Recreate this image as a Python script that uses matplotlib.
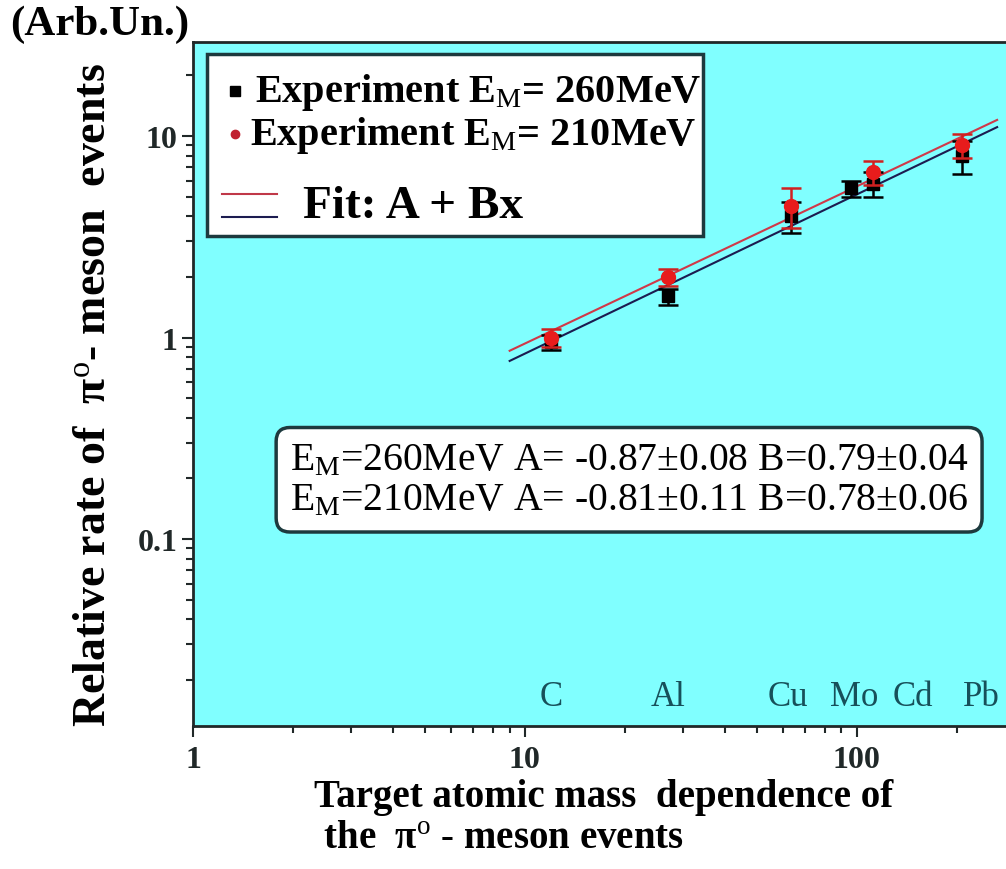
import numpy as np
import matplotlib
matplotlib.use("Agg")
import matplotlib.pyplot as plt
from matplotlib.patches import Rectangle

plt.rcParams['font.family'] = ['Liberation Serif', 'DejaVu Serif']
plt.rcParams['mathtext.fontset'] = 'custom'
plt.rcParams['mathtext.rm'] = 'Liberation Serif'
plt.rcParams['mathtext.it'] = 'Liberation Serif:italic'
plt.rcParams['mathtext.bf'] = 'Liberation Serif:bold'

# targets and their atomic masses
targets = ['C', 'Al', 'Cu', 'Mo', 'Cd', 'Pb']
mass = [12, 27, 63.5, 96, 112, 207]
# where the target names sit along the bottom
label_x = [12, 27, 62, 98, 148, 238]

# E_M = 260 MeV
rate_260 = [0.95, 1.6, 4.0, 5.5, 5.8, 8.0]
err_260 = [0.08, 0.15, 0.7, 0.5, 0.8, 1.5]
# E_M = 210 MeV
rate_210 = [1.0, 2.0, 4.5, None, 6.6, 9.0]
err_210 = [0.1, 0.2, 1.0, None, 0.9, 1.2]

# fits log10(y) = A + B*log10(x)
fit_260 = (-0.87, 0.08, 0.79, 0.04)
fit_210 = (-0.81, 0.11, 0.78, 0.06)
fit_range = (9, 265)

EDGE = '#1d3a3e'
BG = '#80ffff'

fig = plt.figure(figsize=(10.06, 8.70), dpi=100)
ax = fig.add_axes([193 / 1006, 143 / 870, 822 / 1006, 684 / 870])
ax.set_facecolor(BG)
ax.set_xscale('log')
ax.set_yscale('log')
ax.set_xlim(1, 300)
ax.set_ylim(0.0118, 29.3)

# fitted lines
xf = np.geomspace(*fit_range, 50)
for (a, _, b, _), col in [(fit_260, '#1c1c50'), (fit_210, '#d03848')]:
    ax.plot(xf, 10 ** (a + b * np.log10(xf)), color=col, lw=1.5, zorder=3)

# data points
ax.errorbar(mass, rate_260, yerr=err_260, fmt='s', color='black', ms=8.5,
            elinewidth=1.8, capsize=7, capthick=1.8, zorder=4)
m210 = [m for m, r in zip(mass, rate_210) if r is not None]
r210 = [r for r in rate_210 if r is not None]
e210 = [e for e in err_210 if e is not None]
ax.errorbar(m210, r210, yerr=e210, fmt='o', color='#e81c1c', ecolor='#d02020',
            ms=10, elinewidth=1.8, capsize=7, capthick=1.8, zorder=5)

for name, x in zip(targets, label_x):
    ax.text(x, 0.0165, name, ha='center', va='center', fontsize=25,
            color='#17505a')

# axes styling
for side in ['left', 'bottom', 'top']:
    ax.spines[side].set_linewidth(2)
    ax.spines[side].set_color('#202828')
ax.spines['right'].set_visible(False)
ax.tick_params(which='both', direction='out', width=1.5, colors='#202828',
               labelsize=23)
ax.tick_params(which='major', length=8)
ax.tick_params(which='minor', length=5)
ax.tick_params(axis='x', pad=6)
ax.tick_params(axis='y', pad=3)
ax.set_xticks([1, 10, 100])
ax.set_xticklabels(['1', '10', '100'], fontweight='bold')
ax.set_yticks([0.1, 1, 10])
ax.set_yticklabels(['0.1', '1', '10'], fontweight='bold')

ax.set_ylabel('Relative rate of  π$^\\mathrm{o}$- meson  events',
              fontsize=33, fontweight='bold')
ax.yaxis.set_label_coords(-0.095, 0.485)
ax.set_xlabel('Target atomic mass  dependence of\n the  π$^\\mathrm{o}$ - meson events',
              fontsize=28, fontweight='bold', multialignment='left',
              linespacing=1.15)
ax.xaxis.set_label_coords(0.5, -0.076)
fig.text(10 / 1006, 1 - 25 / 870, '(Arb.Un.)', fontsize=31, fontweight='bold',
         ha='left', va='center')

# legend box
ax.add_patch(Rectangle((0.017, 0.716), 0.603, 0.266, transform=ax.transAxes,
                       fc='white', ec=EDGE, lw=2.5, zorder=6))
ax.plot([0.051], [0.928], 's', color='black', ms=7, transform=ax.transAxes, zorder=7)
ax.text(0.075, 0.928, 'Experiment E$_\\mathrm{M}$= 260MeV', transform=ax.transAxes,
        fontsize=29, fontweight='bold', va='center', zorder=7)
ax.plot([0.051], [0.865], 'o', color='#c02030', ms=6, transform=ax.transAxes, zorder=7)
ax.text(0.069, 0.865, 'Experiment E$_\\mathrm{M}$= 210MeV', transform=ax.transAxes,
        fontsize=29, fontweight='bold', va='center', zorder=7)
ax.plot([0.035, 0.102], [0.778, 0.778], color='#c03848', lw=1.5,
        transform=ax.transAxes, zorder=7)
ax.plot([0.035, 0.102], [0.744, 0.744], color='#1c1c50', lw=1.5,
        transform=ax.transAxes, zorder=7)
ax.text(0.134, 0.760, 'Fit: A + Bx', transform=ax.transAxes,
        fontsize=34, fontweight='bold', va='center', zorder=7)

# fit parameters
fit_text = '\n'.join(
    f'E$_\\mathrm{{M}}$={e}MeV A= {a:.2f}±{da:.2f} B={b:.2f}±{db:.2f}'
    for e, (a, da, b, db) in [(260, fit_260), (210, fit_210)])
ax.text(0.118, 0.36, fit_text, transform=ax.transAxes, fontsize=28.5,
        ha='left', va='center', linespacing=1.1, zorder=7,
        bbox=dict(boxstyle='round,pad=0.35', fc='white', ec=EDGE, lw=2.5))

fig.savefig('out.png', dpi=100)
